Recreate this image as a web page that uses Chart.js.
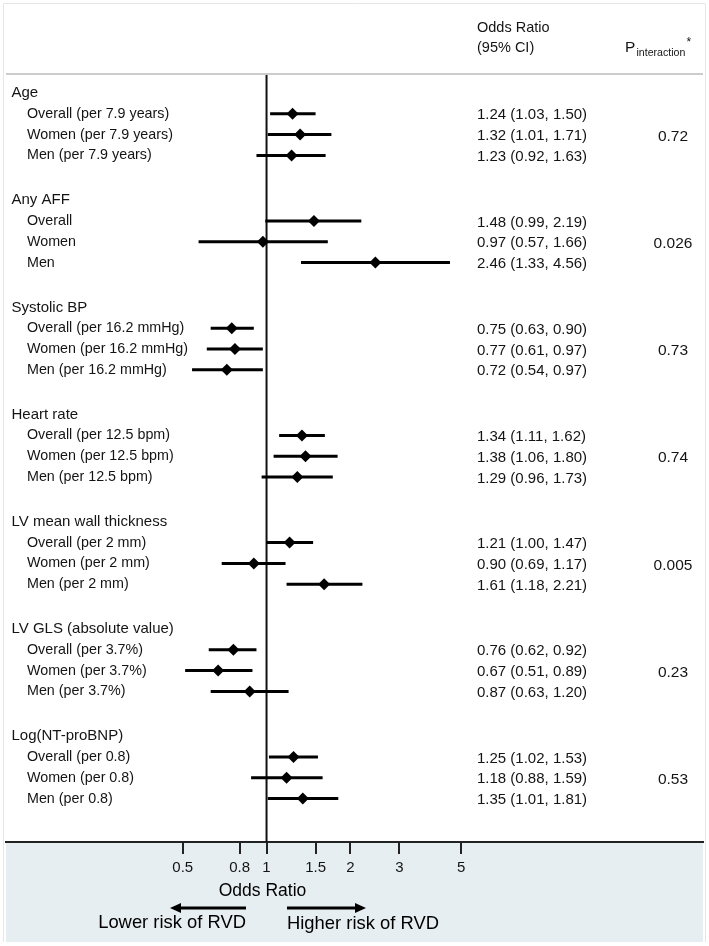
<!DOCTYPE html>
<html>
<head>
<meta charset="utf-8">
<title>Odds ratios for RVD, overall and by sex</title>
<style>
body { margin: 0; background: #fff; }
#wrap { width: 709px; height: 946px; }
</style>
</head>
<body>
<div id="wrap"><canvas id="forest" width="709" height="946"></canvas></div>
<script src="https://cdn.jsdelivr.net/npm/chart.js@4.4.1/dist/chart.umd.min.js"></script>
<script>
// data
const groups = ['Age', 'Any AFF', 'Systolic BP', 'Heart rate', 'LV mean wall thickness', 'LV GLS (absolute value)', 'Log(NT-proBNP)'];
const units = ['per 7.9 years', '', 'per 16.2 mmHg', 'per 12.5 bpm', 'per 2 mm', 'per 3.7%', 'per 0.8'];
const subgroups = ['Overall', 'Women', 'Men'];
const oddsRatio = [1.24, 1.32, 1.23, 1.48, 0.97, 2.46, 0.75, 0.77, 0.72, 1.34, 1.38, 1.29, 1.21, 0.90, 1.61, 0.76, 0.67, 0.87, 1.25, 1.18, 1.35];
const ciLower   = [1.03, 1.01, 0.92, 0.99, 0.57, 1.33, 0.63, 0.61, 0.54, 1.11, 1.06, 0.96, 1.00, 0.69, 1.18, 0.62, 0.51, 0.63, 1.02, 0.88, 1.01];
const ciUpper   = [1.50, 1.71, 1.63, 2.19, 1.66, 4.56, 0.90, 0.97, 0.97, 1.62, 1.80, 1.73, 1.47, 1.17, 2.21, 0.92, 0.89, 1.20, 1.53, 1.59, 1.81];
const pInteraction = ['0.72', '0.026', '0.73', '0.74', '0.005', '0.23', '0.53'];
const xTicks = [0.5, 0.8, 1, 1.5, 2, 3, 5];

const FONT = '"Liberation Sans", Arial, Helvetica, sans-serif';
const INK = '#000';
const GROUP_STEP = 5.154;      // rows between group headings
const Y_MIN = -0.9135, Y_MAX = 36.01;

// row position of every estimate
const rowPos = [];
groups.forEach((g, gi) => subgroups.forEach((s, si) => rowPos.push(gi * GROUP_STEP + si + 1)));

const whiskers = [];
const diamonds = [];
for (let i = 0; i < oddsRatio.length; i++) {
    whiskers.push({x: ciLower[i], y: rowPos[i]}, {x: ciUpper[i], y: rowPos[i]}, {x: ciUpper[i], y: null});
    diamonds.push({x: oddsRatio[i], y: rowPos[i]});
}

function text(ctx, str, x, y, size, align) {
    ctx.font = size + 'px ' + FONT;
    ctx.textAlign = align || 'left';
    ctx.textBaseline = 'middle';
    ctx.fillText(str, x, y);
}

function arrow(ctx, x0, x1, y) {
    const dir = Math.sign(x1 - x0);
    ctx.lineWidth = 3;
    ctx.beginPath();
    ctx.moveTo(x0, y);
    ctx.lineTo(x1 - dir * 8, y);
    ctx.stroke();
    ctx.beginPath();
    ctx.moveTo(x1, y);
    ctx.lineTo(x1 - dir * 11, y - 5);
    ctx.lineTo(x1 - dir * 11, y + 5);
    ctx.closePath();
    ctx.fill();
}

const tablePlugin = {
    id: 'table',
    beforeDraw(chart) {
        const {ctx, chartArea: a} = chart;
        ctx.save();
        ctx.fillStyle = '#fff';
        ctx.fillRect(0, 0, chart.width, chart.height);
        ctx.fillStyle = '#e7eef1';
        ctx.fillRect(a.left, a.bottom, a.right - a.left, 100);
        ctx.strokeStyle = '#e6e6e6';
        ctx.lineWidth = 1;
        ctx.beginPath();
        ctx.moveTo(3.5, 942);
        ctx.lineTo(3.5, 3.5);
        ctx.lineTo(705.5, 3.5);
        ctx.lineTo(705.5, 942);
        ctx.stroke();
        ctx.restore();
    },
    afterDraw(chart) {
        const {ctx, chartArea: a} = chart;
        const y = chart.scales.y;
        ctx.save();
        // header rule
        ctx.strokeStyle = '#cccccc';
        ctx.lineWidth = 2;
        ctx.beginPath();
        ctx.moveTo(a.left, a.top);
        ctx.lineTo(a.right, a.top);
        ctx.stroke();

        ctx.fillStyle = '#141414';
        ctx.strokeStyle = INK;
        // column headings
        text(ctx, 'Odds Ratio', 477, 28, 14.5);
        text(ctx, '(95% CI)', 477, 48, 14.5);
        text(ctx, 'P', 625, 48, 15.5);
        text(ctx, 'interaction', 636.5, 53, 10.6);
        text(ctx, '*', 686.5, 43, 12);

        groups.forEach((g, gi) => {
            const base = gi * GROUP_STEP;
            text(ctx, g, 11.5, y.getPixelForValue(base), 15);
            subgroups.forEach((s, si) => {
                const i = gi * 3 + si;
                const py = y.getPixelForValue(rowPos[i]);
                const label = units[gi] ? s + ' (' + units[gi] + ')' : s;
                text(ctx, label, 27, py, 14.3);
                text(ctx, oddsRatio[i].toFixed(2) + ' (' + ciLower[i].toFixed(2) + ', ' + ciUpper[i].toFixed(2) + ')', 477, py + 1.5, 15);
            });
            text(ctx, pInteraction[gi], 673, y.getPixelForValue(base + 2) + 2, 15.5, 'center');
        });

        // axis caption and direction arrows
        ctx.fillStyle = INK;
        text(ctx, 'Odds Ratio', 262.5, 891, 17.5, 'center');
        arrow(ctx, 246, 170, 908);
        arrow(ctx, 287, 366, 908);
        text(ctx, 'Lower risk of RVD', 246, 923, 18.4, 'right');
        text(ctx, 'Higher risk of RVD', 287, 924, 18.4);
        ctx.restore();
    }
};

new Chart(document.getElementById('forest'), {
    type: 'line',
    data: {
        datasets: [{
            label: 'Odds ratio',
            type: 'scatter',
            data: diamonds,
            pointStyle: 'rectRot',
            pointRadius: 6,
            pointBackgroundColor: '#000',
            pointBorderWidth: 0,
            showLine: false
        }, {
            label: '95% CI',
            data: whiskers,
            borderColor: '#000',
            borderWidth: 3,
            pointRadius: 0,
            spanGaps: false
        }, {
            label: 'No effect',
            data: [{x: 1, y: Y_MIN}, {x: 1, y: Y_MAX}],
            borderColor: '#111',
            borderWidth: 2,
            pointRadius: 0
        }]
    },
    options: {
        responsive: false,
        animation: false,
        events: [],
        layout: {padding: {left: 4, right: 4, top: 74, bottom: 0}},
        plugins: {legend: {display: false}, tooltip: {enabled: false}},
        scales: {
            x: {
                type: 'logarithmic',
                min: 0.1159,
                max: 36.97,
                bounds: 'data',
                afterBuildTicks: (scale) => { scale.ticks = xTicks.map(v => ({value: v})); },
                afterFit: (scale) => { scale.height = 104; },
                ticks: {
                    autoSkip: false,
                    maxRotation: 0,
                    padding: 5,
                    color: '#141414',
                    font: {family: FONT, size: 15},
                    callback: (v) => String(v)
                },
                grid: {drawOnChartArea: false, drawTicks: true, tickLength: 12, color: '#222', lineWidth: 2},
                border: {display: true, color: '#222', width: 2}
            },
            y: {
                type: 'linear',
                display: false,
                reverse: true,
                min: Y_MIN,
                max: Y_MAX
            }
        }
    },
    plugins: [tablePlugin]
});
</script>
</body>
</html>
